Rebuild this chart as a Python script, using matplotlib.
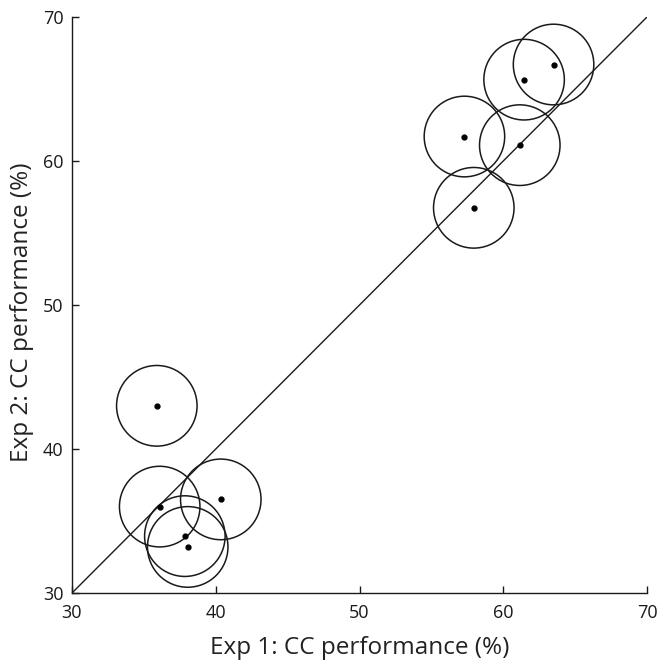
import matplotlib
matplotlib.use("Agg")
import matplotlib.pyplot as plt
from matplotlib.patches import Circle

plt.rcParams['font.family'] = ['Open Sans', 'DejaVu Sans']

exp1 = [35.9, 36.1, 40.35, 37.85, 38.05, 63.5, 61.45, 57.3, 61.15, 57.95]
exp2 = [43.0, 36.0, 36.5, 33.95, 33.2, 66.7, 65.65, 61.7, 61.1, 56.75]
radius = 2.8
ticks = [30, 40, 50, 60, 70]

fig = plt.figure(figsize=(6.58, 6.65), dpi=100)
ax = fig.add_axes([72/658, (665-593)/665, 575/658, 576/665])

ax.plot([30, 70], [30, 70], color='#1a1a1a', lw=1.0, zorder=1)
for x, y in zip(exp1, exp2):
    ax.add_patch(Circle((x, y), radius, fill=False, edgecolor='#1a1a1a', lw=1.1, zorder=2))
ax.plot(exp1, exp2, 'o', color='black', ms=3.5, zorder=3)

ax.set_xlim(30, 70)
ax.set_ylim(30, 70)
ax.set_xticks(ticks)
ax.set_yticks(ticks)
ax.spines['top'].set_visible(False)
ax.spines['right'].set_visible(False)
for s in ['left', 'bottom']:
    ax.spines[s].set_linewidth(1.0)
    ax.spines[s].set_color('#1a1a1a')
ax.tick_params(direction='in', length=5, width=1.0, labelsize=13, colors='#1a1a1a')
ax.tick_params(axis='x', pad=8)
ax.tick_params(axis='y', pad=6)
ax.set_xlabel('Exp 1: CC performance (%)', fontsize=17.5, color='#222222')
ax.set_ylabel('Exp 2: CC performance (%)', fontsize=17.5, color='#222222')
ax.xaxis.label.set_va('center')
ax.yaxis.label.set_va('center')
ax.xaxis.set_label_coords(0.5, -0.0955)
ax.yaxis.set_label_coords(-0.087, 0.488)

fig.savefig('out.png', dpi=100)
